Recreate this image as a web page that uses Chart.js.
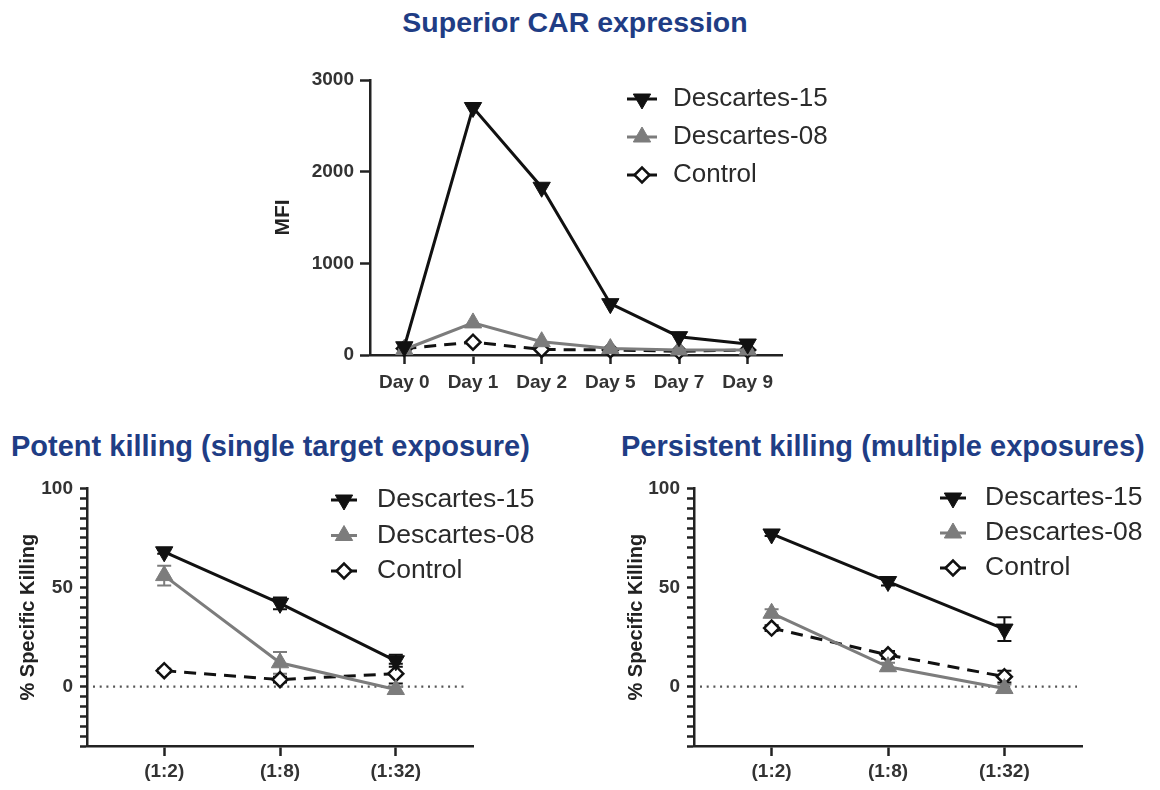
<!DOCTYPE html>
<html>
<head>
<meta charset="utf-8">
<script src="https://cdn.jsdelivr.net/npm/chart.js@4.4.1/dist/chart.umd.min.js"></script>
<style>
    html, body { margin: 0; padding: 0; background: #fff; }
    body { width: 1160px; height: 790px; position: relative; overflow: hidden;
           font-family: "Liberation Sans", Arial, sans-serif; }
    .title { position: absolute; font-weight: bold; font-size: 29px; line-height: 34px;
             color: #1f3d85; white-space: nowrap; }
    canvas { position: absolute; }
</style>
</head>
<body>
<div class="title" style="left:0;width:1150px;text-align:center;top:5px;font-size:28.5px">Superior CAR expression</div>
<div class="title" style="left:11px;top:429px">Potent killing (single target exposure)</div>
<div class="title" style="left:621px;top:429px">Persistent killing (multiple exposures)</div>
<canvas id="car" width="660" height="350" style="left:240px;top:50px;width:660px;height:350px"></canvas>
<canvas id="potent" width="560" height="320" style="left:0;top:470px;width:560px;height:320px"></canvas>
<canvas id="persist" width="560" height="320" style="left:600px;top:470px;width:560px;height:320px"></canvas>
<script>
const seriesNames = ['Descartes-15', 'Descartes-08', 'Control'];

// Superior CAR expression (MFI)
const carDays = ['Day 0', 'Day 1', 'Day 2', 'Day 5', 'Day 7', 'Day 9'];
const carD15 = [90, 2700, 1830, 560, 200, 120];
const carD08 = [60, 350, 145, 70, 55, 55];
const carControl = [70, 140, 60, 55, 40, 55];
const carTicks = [0, 1000, 2000, 3000];

// Killing assays (% specific killing), effector:target ratios
const ratioLabels = ['(1:2)', '(1:8)', '(1:32)'];
const killTicks = [-30, 100];

const potentD15 = [68, 42, 13];
const potentD15Err = [1, 3, 3];
const potentD08 = [56, 12, -1.5];
const potentD08Err = [5, 5.5, 1.5];
const potentControl = [8, 3.5, 6.5];
const potentControlErr = [1, 1.5, 5];

const persistD15 = [77, 53, 29];
const persistD15Err = [1, 2, 6];
const persistD08 = [37, 10, -1];
const persistD08Err = [2, 2, 2];
const persistControl = [29.5, 16, 5];
const persistControlErr = [1.5, 2, 3];

const FONT = '"Liberation Sans", Arial, sans-serif';
const AXIS = '#222';
Chart.defaults.font.family = FONT;

// legend drawn inside the plot, GraphPad style (line + marker + label)
const insetLegend = {
    id: 'insetLegend',
    afterDraw(chart, args, opts) {
        const ctx = chart.ctx;
        ctx.save();
        chart.data.datasets.forEach((ds, i) => {
            const y = opts.y + i * opts.gap;
            ctx.setLineDash([]);
            ctx.strokeStyle = ds.borderColor;
            ctx.lineWidth = 3;
            ctx.beginPath();
            ctx.moveTo(opts.x - opts.half, y);
            ctx.lineTo(opts.x + opts.half, y);
            ctx.stroke();
            ctx.fillStyle = ds.pointBackgroundColor;
            ctx.strokeStyle = ds.pointBorderColor;
            ctx.lineWidth = ds.pointBorderWidth;
            Chart.helpers.drawPoint(ctx, {
                pointStyle: ds.pointStyle,
                rotation: ds.pointRotation || 0,
                radius: ds.pointRadius,
                borderWidth: ds.pointBorderWidth,
            }, opts.x, y);
            ctx.fillStyle = '#2a2a2a';
            ctx.font = opts.font;
            ctx.textBaseline = 'middle';
            ctx.textAlign = 'left';
            ctx.fillText(ds.label, opts.textX, y);
        });
        ctx.restore();
    },
};

const errorBars = {
    id: 'errorBars',
    beforeDatasetsDraw(chart) {
        const {ctx, scales: {x, y}} = chart;
        ctx.save();
        chart.data.datasets.forEach(ds => {
            if (!ds.errors) return;
            ctx.setLineDash([]);
            ctx.strokeStyle = ds.borderColor;
            ctx.lineWidth = 2;
            ds.data.forEach((p, i) => {
                const e = ds.errors[i];
                if (!e) return;
                const px = x.getPixelForValue(p.x);
                const top = y.getPixelForValue(p.y + e);
                const bot = y.getPixelForValue(p.y - e);
                ctx.beginPath();
                ctx.moveTo(px, top); ctx.lineTo(px, bot);
                ctx.moveTo(px - 7, top); ctx.lineTo(px + 7, top);
                ctx.moveTo(px - 7, bot); ctx.lineTo(px + 7, bot);
                ctx.stroke();
            });
        });
        ctx.restore();
    },
};

const zeroLine = {
    id: 'zeroLine',
    beforeDatasetsDraw(chart) {
        const {ctx, chartArea, scales: {y}} = chart;
        const py = y.getPixelForValue(0);
        ctx.save();
        ctx.strokeStyle = '#555';
        ctx.lineWidth = 2.2;
        ctx.setLineDash([2, 4.7]);
        ctx.beginPath();
        ctx.moveTo(chartArea.left + 6, py);
        ctx.lineTo(chartArea.right - 5, py);
        ctx.stroke();
        ctx.restore();
    },
};

function points(values, start) {
    return values.map((v, i) => ({x: start + i, y: v}));
}

function makeDatasets(start, d15, d08, ctl, errs) {
    return [
        {
            label: seriesNames[0], data: points(d15, start), errors: errs && errs[0],
            borderColor: '#111', pointBackgroundColor: '#111', pointBorderColor: '#111',
            pointStyle: 'triangle', pointRotation: 180, pointRadius: 10, pointBorderWidth: 1,
            borderWidth: 3,
        },
        {
            label: seriesNames[1], data: points(d08, start), errors: errs && errs[1],
            borderColor: '#7c7c7c', pointBackgroundColor: '#7c7c7c', pointBorderColor: '#7c7c7c',
            pointStyle: 'triangle', pointRadius: 10, pointBorderWidth: 1,
            borderWidth: 3,
        },
        {
            label: seriesNames[2], data: points(ctl, start), errors: errs && errs[2],
            borderColor: '#111', pointBackgroundColor: '#fff', pointBorderColor: '#111',
            pointStyle: 'rectRot', pointRadius: 7.5, pointBorderWidth: 2.5,
            borderWidth: 3, borderDash: [12, 8],
        },
    ];
}

function makeChart(id, cfg) {
    const tickFont = {family: FONT, size: 19, weight: 'bold'};
    return new Chart(document.getElementById(id), {
        type: 'line',
        data: {datasets: cfg.datasets},
        options: {
            responsive: false,
            animation: false,
            events: [],
            clip: false,
            layout: {padding: cfg.padding},
            plugins: {
                legend: {display: false},
                tooltip: {enabled: false},
                insetLegend: cfg.legend,
            },
            scales: {
                x: {
                    type: 'linear',
                    min: cfg.xMin,
                    max: cfg.xMax,
                    afterBuildTicks: axis => {
                        axis.ticks = cfg.xLabels.map((_, i) => ({value: cfg.xStart + i}));
                    },
                    afterFit: axis => { axis.height = cfg.xHeight; },
                    ticks: {
                        callback: v => cfg.xLabels[v - cfg.xStart],
                        font: tickFont, color: '#333', padding: cfg.xPad,
                        maxRotation: 0, autoSkip: false,
                    },
                    grid: {
                        display: true, drawOnChartArea: false, tickLength: cfg.xTick,
                        tickWidth: 2.5, tickColor: AXIS,
                    },
                    border: {display: true, color: AXIS, width: 2.5},
                },
                y: {
                    min: cfg.yMin,
                    max: cfg.yMax,
                    afterFit: axis => { axis.width = cfg.yWidth; },
                    ticks: {
                        stepSize: cfg.yStep,
                        autoSkip: false,
                        callback: v => (v % cfg.yLabelEvery === 0 ? v : ''),
                        font: tickFont, color: '#333', padding: cfg.yPad,
                    },
                    grid: {
                        display: true, drawOnChartArea: false, tickLength: cfg.yTick,
                        tickWidth: 2.5, tickColor: AXIS,
                    },
                    border: {display: true, color: AXIS, width: 2.5},
                    title: {
                        display: true, text: cfg.yTitle, color: '#222',
                        font: {family: FONT, size: cfg.yTitleSize, weight: 'bold'},
                        padding: {top: cfg.yTitlePad, bottom: 0},
                    },
                },
            },
        },
        plugins: cfg.plugins,
    });
}

makeChart('car', {
    datasets: makeDatasets(0, carD15, carD08, carControl),
    padding: {left: 0, top: 30, right: 118, bottom: 0},
    xLabels: carDays, xStart: 0, xMin: -0.5, xMax: carDays.length - 0.5,
    xHeight: 45, xPad: 7, xTick: 9,
    yMin: carTicks[0], yMax: carTicks[carTicks.length - 1], yStep: 1000, yLabelEvery: 1000,
    yWidth: 130, yPad: 6, yTick: 10,
    yTitle: 'MFI', yTitleSize: 21, yTitlePad: 31,
    legend: {x: 402, half: 15, y: 49, gap: 38, textX: 433, font: '26px ' + FONT},
    plugins: [insetLegend],
});

const killCommon = {
    xLabels: ratioLabels, xStart: 1, xMin: 1 / 3, xMax: ratioLabels.length + 2 / 3,
    xHeight: 44, xPad: 4, xTick: 10,
    yMin: killTicks[0], yMax: killTicks[1], yStep: 5, yLabelEvery: 50,
    yPad: 7, yTick: 7,
    yTitle: '% Specific Killing', yTitleSize: 20,
    plugins: [zeroLine, errorBars, insetLegend],
};

makeChart('potent', Object.assign({}, killCommon, {
    datasets: makeDatasets(1, potentD15, potentD08, potentControl,
        [potentD15Err, potentD08Err, potentControlErr]),
    padding: {left: 0, top: 18, right: 87, bottom: 0},
    yWidth: 87, yTitlePad: 16,
    legend: {x: 344, half: 13, y: 30, gap: 35.5, textX: 377, font: '26.5px ' + FONT},
}));

makeChart('persist', Object.assign({}, killCommon, {
    datasets: makeDatasets(1, persistD15, persistD08, persistControl,
        [persistD15Err, persistD08Err, persistControlErr]),
    padding: {left: 0, top: 18, right: 78, bottom: 0},
    yWidth: 94, yTitlePad: 24,
    legend: {x: 353, half: 13, y: 28, gap: 35, textX: 385, font: '26.5px ' + FONT},
}));
</script>
</body>
</html>
